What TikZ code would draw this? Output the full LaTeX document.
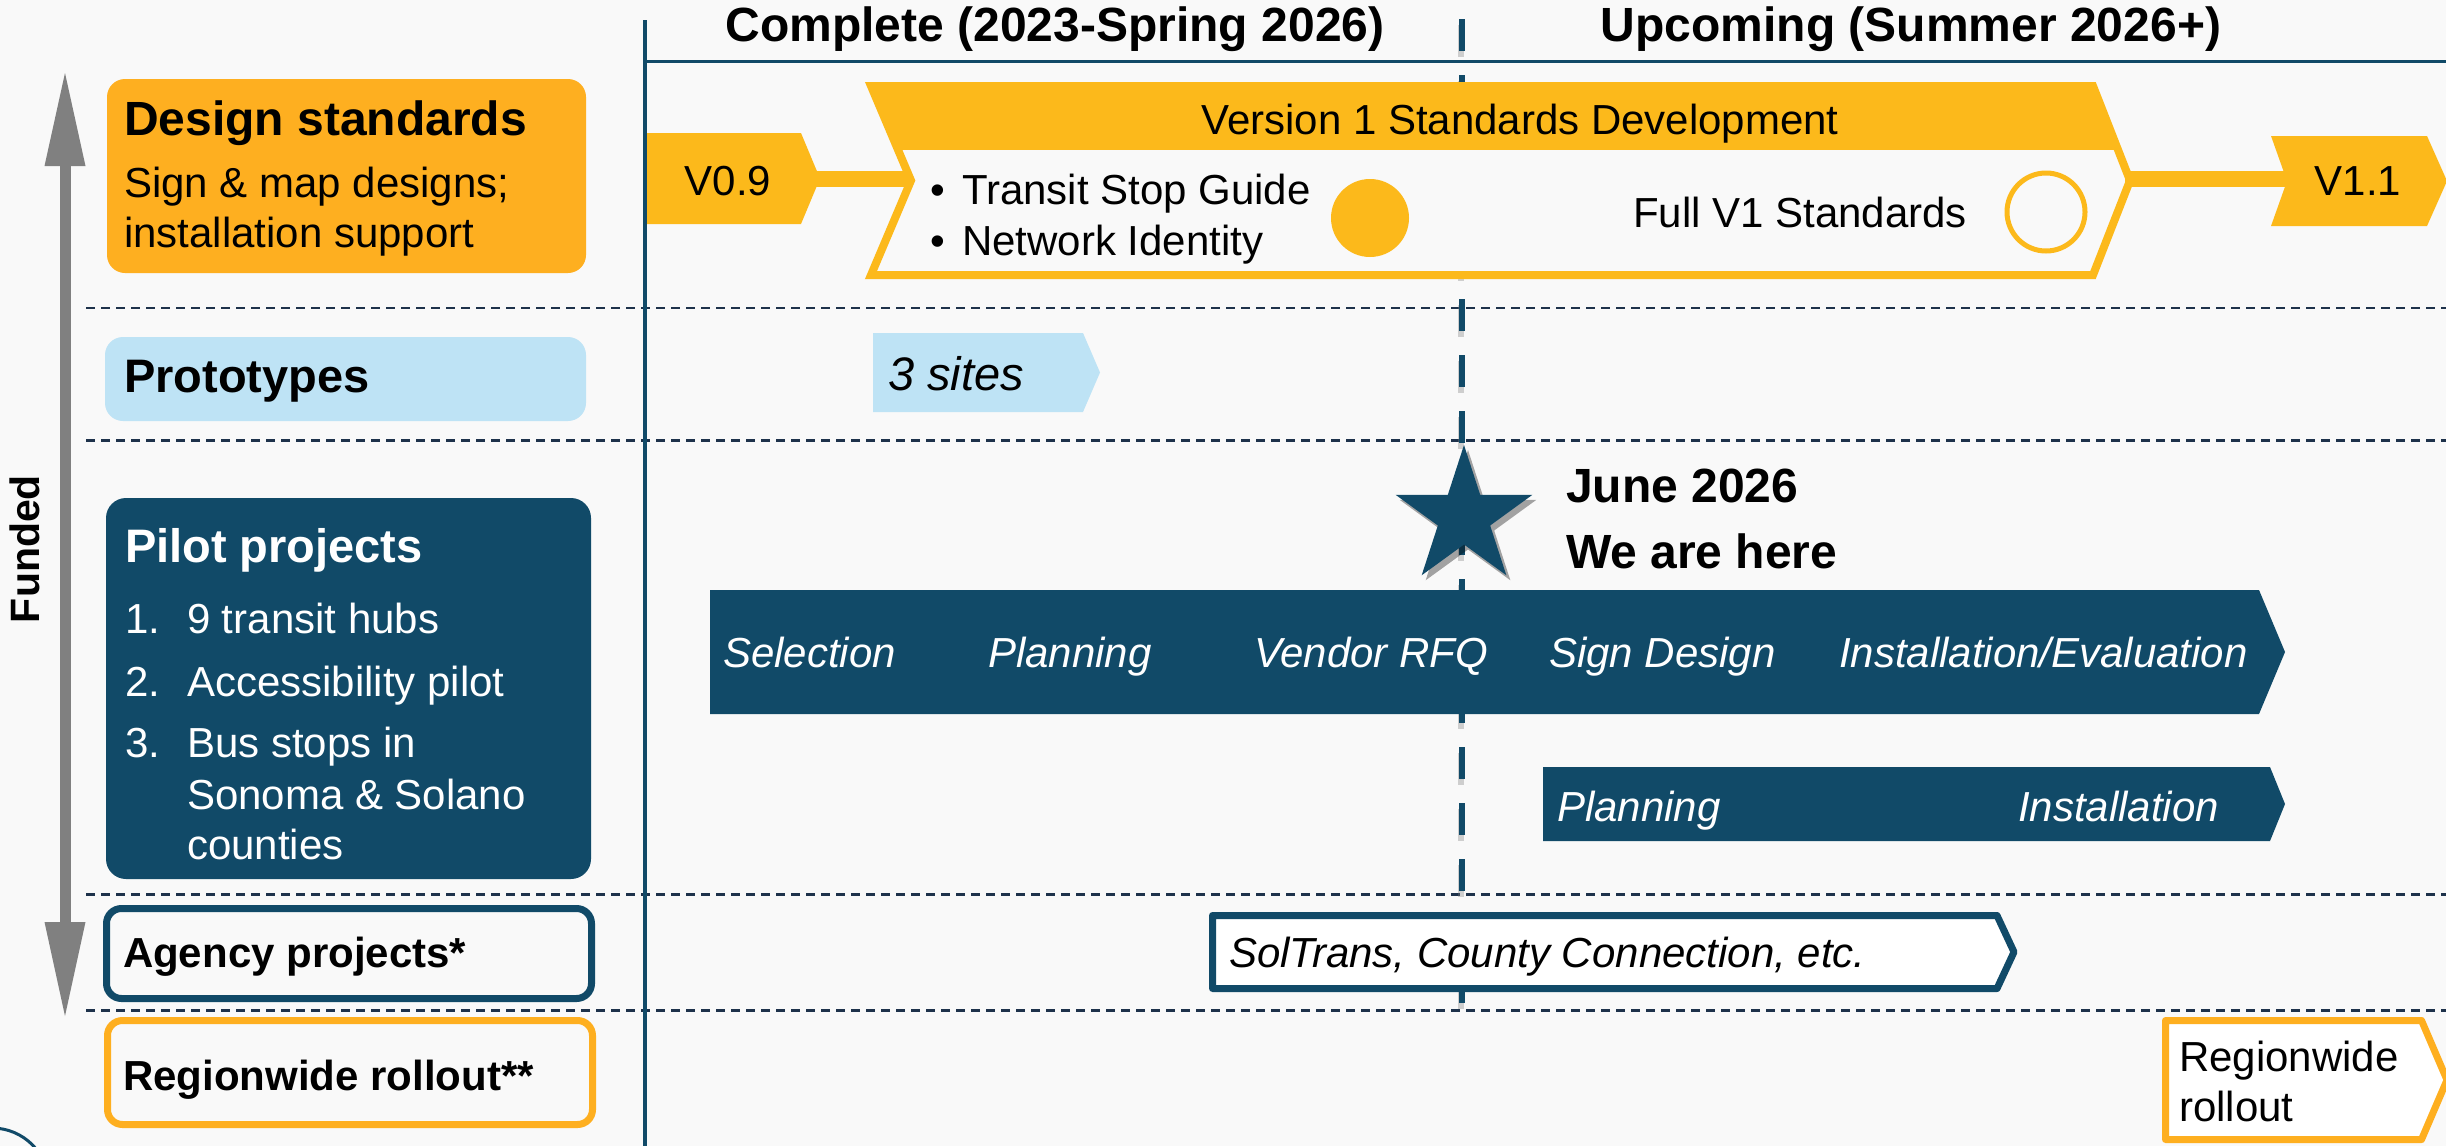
\documentclass[tikz,border=0pt]{standalone}
\usepackage{fontspec}
\setmainfont{Liberation Sans}
\usetikzlibrary{shapes.geometric,shadows}
\definecolor{navy}{RGB}{17,74,104}
\definecolor{gold}{RGB}{252,185,27}
\definecolor{orng}{RGB}{254,175,32}
\definecolor{lblue}{RGB}{190,227,245}
\definecolor{bgc}{RGB}{249,249,249}
\definecolor{dashc}{RGB}{30,50,75}
\definecolor{arrgray}{RGB}{128,128,128}
\newcommand{\myfs}[1]{\fontsize{#1}{#1}\selectfont}
\begin{document}
\begin{tikzpicture}[x=1pt,y=-1pt,
  txt/.style={anchor=base west,inner sep=0pt,outer sep=0pt},
  ctxt/.style={anchor=base,inner sep=0pt,outer sep=0pt},
  rg/.style={font={\myfs{42}}},
  it/.style={font={\itshape\myfs{42}}},
  bd/.style={font={\bfseries\myfs{48}}},
  bds/.style={font={\bfseries\myfs{42}}},
  hdash/.style={dashc,line width=2.5pt,dash pattern=on 9pt off 6pt},
  vdash/.style={line width=6pt,dash pattern=on 32pt off 24pt},
  outl/.style={line width=7pt,line join=round}]
\useasboundingbox (0,0) rectangle (2446,1146);
\fill[bgc] (0,0) rectangle (2446,1146);
% row separators
\foreach \yy in {308,440.5,894.5,1010.5}
  \draw[hdash] (86,\yy) -- (2446,\yy);
% axis lines
\draw[navy,line width=4pt] (645,20) -- (645,1146);
\draw[navy,line width=3pt] (645,61.5) -- (2446,61.5);
% now line
\draw[vdash,gray,opacity=.35] (1461,25) -- (1461,1009);
\draw[vdash,navy] (1462,19) -- (1462,1003);
% headers
\node[ctxt,bd] (hcomp) at (1055,41) {Complete (2023-Spring 2026)};
\node[ctxt,bd] (hup) at (1911,41) {Upcoming (Summer 2026+)};
% Funded arrow
\fill[arrgray] (59.5,160) rectangle (70.5,928);
\fill[arrgray] (65,73) -- (85.5,166) -- (44.5,166) -- cycle;
\fill[arrgray] (65,1016) -- (85.5,922) -- (44.5,922) -- cycle;
\node[rotate=90,inner sep=0pt,font={\bfseries\myfs{41}}] (funded) at (25,549) {Funded};
% left category boxes
\fill[orng,rounded corners=18pt] (107,79) rectangle (586,273);
\node[txt,bd] (dst) at (124,135) {Design standards};
\node[txt,rg] (dst1) at (124,197) {Sign \& map designs;};
\node[txt,rg] (dst2) at (124,247) {installation support};
\fill[lblue,rounded corners=18pt] (105,337) rectangle (586,421);
\node[txt,font={\bfseries\myfs{47}}] (proto) at (124,392) {Prototypes};
\fill[navy,rounded corners=20pt] (106,498) rectangle (591,879);
\node[txt,font={\bfseries\myfs{47}},white] (pilot) at (125,562) {Pilot projects};
\node[txt,rg,white] (n1) at (125,633) {1.};
\node[txt,rg,white] (p1) at (187,633) {9 transit hubs};
\node[txt,rg,white] (n2) at (125,696) {2.};
\node[txt,rg,white] (p2) at (187,696) {Accessibility pilot};
\node[txt,rg,white] (n3) at (125,757) {3.};
\node[txt,rg,white] (p3a) at (187,757) {Bus stops in};
\node[txt,rg,white] (p3b) at (187,809) {Sonoma \& Solano};
\node[txt,rg,white] (p3c) at (187,859) {counties};
\draw[navy,line width=7pt,fill=bgc,rounded corners=15pt] (106.5,908.5) rectangle (591.5,998.5);
\node[txt,bds] (agency) at (123,967) {Agency projects*};
\draw[orng,line width=7pt,fill=bgc,rounded corners=15pt] (107.5,1020.5) rectangle (592.5,1124.5);
\node[txt,bds] (region) at (123,1090) {Regionwide rollout**};
% design standards timeline
\fill[gold] (647,133) -- (801,133) -- (820,178.5) -- (801,224) -- (647,224) -- cycle;
\node[ctxt,rg] (v09) at (728,195) {V0.9};
\fill[gold] (810,171) rectangle (912,187);
\fill[bgc] (871,86) -- (2093,86) -- (2130,180.5) -- (2093,275) -- (871,275) -- (911,180.5) -- cycle;
\begin{scope}
  \clip (871,86) -- (2093,86) -- (2130,180.5) -- (2093,275) -- (871,275) -- (911,180.5) -- cycle;
  \fill[gold] (800,60) rectangle (2200,150);
\end{scope}
\draw[gold,line width=8pt,line join=miter] (871,86) -- (2093,86) -- (2130,180.5) -- (2093,275) -- (871,275) -- (911,180.5) -- cycle;
\node[ctxt,rg] (v1) at (1520,134) {Version 1 Standards Development};
\node[txt,rg] (b1) at (930,204) {•};
\node[txt,rg] (tsg) at (962,204) {Transit Stop Guide};
\node[txt,rg] (b2) at (930,255) {•};
\node[txt,rg] (nid) at (962,255) {Network Identity};
\fill[gold] (1370,218) circle (39);
\node[txt,rg] (full) at (1633,227) {Full V1 Standards};
\draw[gold,line width=5pt] (2046,212) circle (39);
\fill[gold] (2125,171) rectangle (2292,187);
\fill[gold] (2271,136) -- (2427,136) -- (2447,181) -- (2427,226) -- (2271,226) -- (2287,181) -- cycle;
\node[ctxt,rg] (v11) at (2358,195) {V1.1};
% prototypes
\fill[lblue] (873,333) -- (1083,333) -- (1100,372.5) -- (1083,412) -- (873,412) -- cycle;
\node[txt,font={\itshape\myfs{47}}] (sites) at (888,390) {3 sites};
% pilot bars
\fill[navy] (710,590) -- (2259,590) -- (2285,652) -- (2259,714) -- (710,714) -- cycle;
\node[txt,it,white] (sel) at (723,667) {Selection};
\node[txt,it,white] (plan) at (988,667) {Planning};
\node[txt,it,white] (rfq) at (1254,667) {Vendor RFQ};
\node[txt,it,white] (sd) at (1549,667) {Sign Design};
\node[txt,it,white] (inst) at (1839,667) {Installation/Evaluation};
\fill[navy] (1543,767) -- (2270,767) -- (2285,804) -- (2270,841) -- (1543,841) -- cycle;
\node[txt,it,white] (plan2) at (1557,821) {Planning};
\node[txt,it,white] (inst2) at (2018,821) {Installation};
% star
\node[star,star points=5,star point ratio=2.618,minimum size=144pt,inner sep=0pt,fill=navy,
  drop shadow={shadow xshift=4pt,shadow yshift=-5pt,opacity=0.35,fill=black}] (star) at (1464,517) {};
\node[txt,bd] (june) at (1566,502) {June 2026};
\node[txt,bd] (here) at (1566,568) {We are here};
% agency projects
\draw[outl,navy,fill=white] (1212.5,915.5) -- (1997,915.5) -- (2014,952) -- (1997,988.5) -- (1212.5,988.5) -- cycle;
\node[txt,it] (sol) at (1229,967) {SolTrans, County Connection, etc.};
% regionwide rollout
\draw[outl,orng,fill=white] (2165.5,1020.5) -- (2421.5,1020.5) -- (2447,1080) -- (2421.5,1139.5) -- (2165.5,1139.5) -- cycle;
\node[txt,rg] (rw1) at (2179,1071) {Regionwide};
\node[txt,rg] (rw2) at (2179,1121) {rollout};
% partial circle bottom-left
\begin{scope}
  \clip (0,0) rectangle (2446,1146);
  \draw[navy,line width=3pt] (-8,1185) circle (57);
\end{scope}
\end{tikzpicture}
\end{document}
